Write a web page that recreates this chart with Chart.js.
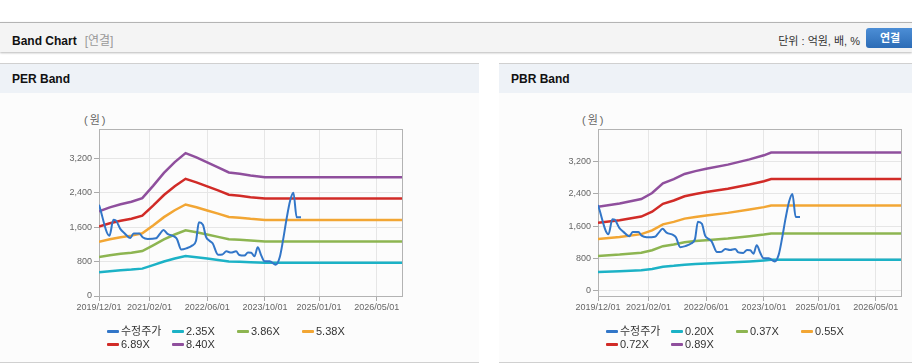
<!DOCTYPE html>
<html>
<head>
<meta charset="utf-8">
<script src="https://cdn.jsdelivr.net/npm/chart.js@4.4.1/dist/chart.umd.min.js"></script>
<style>
  body { margin: 0; width: 912px; height: 364px; background: #fff; overflow: hidden;
         font-family: "Liberation Sans", "Noto Sans CJK KR", sans-serif; position: relative; }
  .topbar { position: absolute; left: 0; top: 22px; width: 912px; height: 29px;
            border-top: 1px solid #b4b4b4; background: #f4f4f4; box-shadow: 0 1px 2px rgba(0,0,0,.28); }
  .topbar .title { position: absolute; left: 12px; top: 8px; font-size: 12px; font-weight: bold; color: #111; }
  .topbar .sub { color: #999; font-weight: normal; margin-left: 8px; }
  .topbar .unit { position: absolute; right: 52px; top: 9px; font-size: 11px; color: #333; }
  .topbar .btn { position: absolute; left: 866px; top: 5px; width: 48px; height: 20px; border-radius: 3px;
                 background: linear-gradient(#4c8ed6, #2c6cb6); color: #fff; font-size: 11px; font-weight: bold;
                 text-align: center; line-height: 20px; }
  .panel { position: absolute; top: 63px; height: 298px; border-top: 1px solid #d0d0d0;
           border-bottom: 1px solid #d0d0d0; background: #fcfcfc; }
  .panel .head { height: 29px; background: #eef2f7; font-size: 12px; font-weight: bold; color: #111;
                 padding-left: 12px; line-height: 30px; }
  .panel canvas { position: absolute; left: 0; top: 30px; }
  .unitlbl { position: absolute; top: 47px; font-size: 11px; color: #666; letter-spacing: 2px; }
  .legend { position: absolute; top: 261px; left: 107px; width: 300px; font-size: 11px; color: #333; }
  .legend .item { display: inline-block; width: 65px; height: 13px; line-height: 13px; white-space: nowrap; }
  .legend .sym { display: inline-block; width: 12px; height: 3px; vertical-align: middle; margin-right: 2px;
                 position: relative; top: -1px; border-radius: 1px; }
</style>
</head>
<body>
<div class="topbar">
  <div class="title">Band Chart<span class="sub">[연결]</span></div>
  <div class="unit">단위 : 억원, 배, %</div>
  <div class="btn">연결</div>
</div>

<div class="panel" style="left:0; width:479px;">
  <div class="head">PER Band</div>
  <div class="unitlbl" style="left:84px;">(원)</div>
  <canvas id="perChart" width="479" height="232"></canvas>
  <div class="legend" id="perLegend"></div>
</div>

<div class="panel" style="left:499px; width:413px;">
  <div class="head">PBR Band</div>
  <div class="unitlbl" style="left:83px;">(원)</div>
  <canvas id="pbrChart" width="413" height="232"></canvas>
  <div class="legend" id="pbrLegend"></div>
</div>

<script>
"use strict"

// x축: 2019/12 기준 개월 수
const xTickMonths = [0, 14, 30, 46, 61, 77]
const xTickLabels = ["2019/12/01", "2021/02/01", "2022/06/01", "2023/10/01", "2025/01/01", "2026/05/01"]
const yTicks = [0, 800, 1600, 2400, 3200]

// 수정주가
const priceMonths = [0, 2.9, 4, 4.6, 5.9, 7, 8.7, 9.6, 11.2, 12.1, 13.5, 15.8, 16.8, 17.9, 19, 20.9, 21.6, 22.8, 24.2, 25.8,
  26.9, 27.7, 28.8, 29.7, 30.6, 31.5, 33, 34.2, 35.3, 36.6, 38, 38.9, 40.3, 41.3, 42.2, 43.1, 44, 45, 45.9, 47.3,
  49, 50.1, 51, 52, 53, 53.9, 54.8, 56]
const price = [2120, 1400, 1770, 1760, 1560, 1465, 1350, 1455, 1455, 1365, 1326, 1340, 1434, 1535, 1442, 1380, 1326, 1080, 1107, 1170,
  1286, 1712, 1658, 1365, 1286, 1225, 960, 965, 1037, 1010, 1037, 953, 940, 1010, 1005, 921, 1130, 937, 805, 805,
  728, 898, 1286, 1791, 2217, 2396, 1828, 1828]

// PER 밴드
const perLabels = ["수정주가", "2.35X", "3.86X", "5.38X", "6.89X", "8.40X"]
const perMonths = [0, 3, 6, 9, 12, 15, 18, 21, 24, 27, 30, 33, 36, 39, 42, 46, 84]
const per235 = [551, 576, 596, 613, 636, 716, 800, 870, 929, 901, 869, 837, 803, 795, 783, 772, 772]
const per386 = [905, 946, 979, 1006, 1045, 1177, 1314, 1429, 1525, 1480, 1427, 1374, 1319, 1305, 1287, 1268, 1268]
const per538 = [1262, 1319, 1364, 1403, 1457, 1640, 1832, 1992, 2126, 2062, 1988, 1915, 1838, 1819, 1793, 1768, 1768]
const per689 = [1616, 1689, 1747, 1796, 1866, 2100, 2346, 2551, 2723, 2641, 2547, 2453, 2354, 2330, 2296, 2264, 2264]
const per840 = [1970, 2060, 2130, 2190, 2275, 2560, 2860, 3110, 3320, 3220, 3105, 2990, 2870, 2840, 2800, 2760, 2760]

// PBR 밴드
const pbrLabels = ["수정주가", "0.20X", "0.37X", "0.55X", "0.72X", "0.89X"]
const pbrMonths = [0, 6, 12, 15, 18, 21, 24, 27, 30, 36, 42, 46, 48, 84]
const pbr020 = [467, 485, 510, 544, 598, 620, 649, 665, 679, 701, 730, 753, 768, 768]
const pbr037 = [865, 898, 944, 1006, 1106, 1147, 1201, 1231, 1255, 1297, 1351, 1393, 1420, 1420]
const pbr055 = [1285, 1335, 1403, 1495, 1644, 1706, 1786, 1829, 1866, 1928, 2009, 2070, 2111, 2111]
const pbr072 = [1683, 1747, 1837, 1958, 2152, 2233, 2338, 2395, 2443, 2524, 2629, 2710, 2764, 2764]
const pbr089 = [2080, 2160, 2270, 2420, 2660, 2760, 2890, 2960, 3020, 3120, 3250, 3350, 3417, 3417]

const colors = ["#3276c8", "#1cb2c6", "#8db551", "#f2a634", "#d12b27", "#8f4f9d"]

function points(months, values) {
    let arr = []
    for (let i = 0; i < months.length; i++) {
        arr.push({ x: months[i], y: values[i] })
    }
    return arr
}

// 플롯 영역 테두리
const plotBorder = {
    id: "plotBorder",
    beforeDatasetsDraw(chart) {
        const a = chart.chartArea
        const ctx = chart.ctx
        ctx.save()
        ctx.strokeStyle = "#b3b3b3"
        ctx.lineWidth = 1
        ctx.strokeRect(Math.round(a.left) + 0.5, Math.round(a.top) + 0.5, Math.round(a.right - a.left), Math.round(a.bottom - a.top))
        ctx.restore()
    }
}

function makeChart(id, legendId, labels, bandMonths, bands, yMin, yMax, rightPad) {
    let datasets = [{
        label: labels[0],
        data: points(priceMonths, price),
        borderColor: colors[0],
        borderWidth: 2,
        cubicInterpolationMode: "monotone"
    }]
    for (let i = 0; i < bands.length; i++) {
        datasets.push({
            label: labels[i + 1],
            data: points(bandMonths, bands[i]),
            borderColor: colors[i + 1],
            borderWidth: 2.5,
            tension: 0
        })
    }

    new Chart(document.getElementById(id), {
        type: "line",
        data: { datasets: datasets },
        options: {
            responsive: false,
            animation: false,
            layout: { padding: { top: 35, right: rightPad, left: 0, bottom: 0 } },
            elements: { point: { radius: 0 } },
            plugins: { legend: { display: false }, tooltip: { enabled: false } },
            scales: {
                x: {
                    type: "linear",
                    min: 0,
                    max: 84,
                    afterBuildTicks: s => { s.ticks = xTickMonths.map(v => ({ value: v })) },
                    afterFit: s => { s.height = 30 },
                    ticks: {
                        autoSkip: false, maxRotation: 0, padding: 1,
                        color: "#666", font: { size: 9, family: "Liberation Sans" },
                        callback: v => xTickLabels[xTickMonths.indexOf(v)]
                    },
                    grid: { color: "#e6e6e6", tickColor: "#aaa", tickLength: 5 },
                    border: { color: "#aaa" }
                },
                y: {
                    min: yMin,
                    max: yMax,
                    afterBuildTicks: s => { s.ticks = yTicks.map(v => ({ value: v })) },
                    afterFit: s => { s.width = 99 },
                    ticks: {
                        padding: 2, color: "#666", font: { size: 9, family: "Liberation Sans" },
                        callback: v => v.toLocaleString("en-US")
                    },
                    grid: { color: "#e6e6e6", tickColor: "#aaa", tickLength: 5 },
                    border: { color: "#aaa" }
                }
            }
        },
        plugins: [plotBorder]
    })

    // 범례
    let html = ""
    for (let i = 0; i < labels.length; i++) {
        html += '<span class="item"><span class="sym" style="background:' + colors[i] + '"></span>' + labels[i] + '</span>'
        if (i === 3) html += "<br>"
    }
    document.getElementById(legendId).innerHTML = html
}

makeChart("perChart", "perLegend", perLabels, perMonths, [per235, per386, per538, per689, per840], 0, 3880, 77)
makeChart("pbrChart", "pbrLegend", pbrLabels, pbrMonths, [pbr020, pbr037, pbr055, pbr072, pbr089], -125, 4000, 11)
</script>
</body>
</html>
